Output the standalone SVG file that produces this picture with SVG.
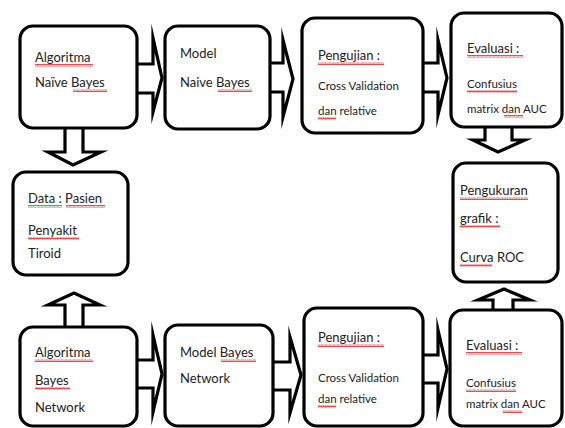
<svg xmlns="http://www.w3.org/2000/svg" width="565" height="428" viewBox="0 0 565 428">
<defs>
<pattern id="sq" width="4" height="3" patternUnits="userSpaceOnUse">
<path d="M0,2.5 L1,0.5 L2,2.5 L3,0.5 L4,2.5" fill="none" stroke="#e02020" stroke-width="0.8"/>
</pattern>
<pattern id="sqg" width="4" height="3" patternUnits="userSpaceOnUse">
<path d="M0,2.5 L1,0.5 L2,2.5 L3,0.5 L4,2.5" fill="none" stroke="#2a9a2a" stroke-width="0.8"/>
</pattern>
</defs>
<style>
.box{fill:#fff;stroke:#000;stroke-width:3.2}
.arr{fill:#fff;stroke:#000;stroke-width:3.2;stroke-linejoin:miter;stroke-miterlimit:10}
text{font-family:Lato,"Liberation Sans",sans-serif;fill:#222}
.t{font-size:13px}
.s{font-size:11.5px}
.r{fill:url(#sq)}
.g{fill:url(#sqg)}
</style>
<rect width="565" height="428" fill="#fff"/>
<g id="connectors">
<path class="arr" d="M137,64 L153,64 L153,38 L162,78 L153,112 L153,93 L137,93"/>
<path class="arr" d="M269,63 L283,63 L283,40 L293,79 L283,117 L283,92 L269,92"/>
<path class="arr" d="M423,63 L438,63 L438,40 L447,78 L438,115 L438,92 L423,92"/>
<path class="arr" d="M137,360 L153,360 L153,335 L162,374 L153,412 L153,388 L137,388"/>
<path class="arr" d="M273,362 L290,362 L290,337 L301,375 L290,413 L290,390 L273,390"/>
<path class="arr" d="M423,355 L438,355 L438,330 L447,369 L438,408 L438,383 L423,383"/>
<path class="arr" d="M65,128 L65,152 L48,152 L73,165 L101,152 L83,152 L83,128"/>
<path class="arr" d="M65,327 L65,305 L48,305 L74,293 L100,305 L83,305 L83,327"/>
<path class="arr" d="M485,127 L485,140 L473,140 L498,152 L525,140 L512,140 L512,127"/>
<path class="arr" d="M493,310 L493,300 L478,300 L504,289 L530,300 L513,300 L513,310"/>
</g>
<g id="n1">
<rect class="box" x="20" y="26" width="117" height="102" rx="13"/>
<text class="t" x="35" y="62">Algoritma</text>
<text class="t" x="35" y="87">Naïve Bayes</text>
<rect class="r" x="35" y="64" width="58" height="3"/>
<rect class="r" x="73" y="89" width="34" height="3"/>
</g>
<g id="n2">
<rect class="box" x="165" y="26" width="105" height="103" rx="13"/>
<text class="t" x="180" y="58">Model</text>
<text class="t" x="180" y="87">Naive Bayes</text>
<rect class="r" x="218" y="89" width="34" height="3"/>
</g>
<g id="n3">
<rect class="box" x="302" y="18" width="121" height="115" rx="13"/>
<text class="t" x="318" y="60">Pengujian :</text>
<text class="s" x="318" y="90">Cross Validation</text>
<text class="s" x="318" y="115">dan relative</text>
<rect class="r" x="318" y="62" width="66" height="3"/>
<rect class="r" x="318" y="117" width="18" height="3"/>
</g>
<g id="n4">
<rect class="box" x="451" y="13" width="111" height="114" rx="13"/>
<text class="t" x="467" y="53">Evaluasi :</text>
<text class="s" x="467" y="88">Confusius</text>
<text class="s" x="467" y="113">matrix dan AUC</text>
<rect class="r" x="467" y="55" width="56" height="3"/>
<rect class="r" x="467" y="90" width="50" height="3"/>
<rect class="r" x="504" y="115" width="19" height="3"/>
</g>
<g id="n5">
<rect class="box" x="453" y="163" width="105" height="119" rx="13"/>
<text class="t" x="460" y="195">Pengukuran</text>
<text class="t" x="460" y="223">grafik :</text>
<text class="t" x="460" y="262">Curva ROC</text>
<rect class="r" x="460" y="197" width="68" height="3"/>
<rect class="r" x="460" y="225" width="40" height="3"/>
<rect class="r" x="460" y="264" width="32" height="3"/>
</g>
<g id="n6">
<rect class="box" x="13" y="172" width="115" height="103" rx="13"/>
<text class="t" x="28" y="203">Data : Pasien</text>
<text class="t" x="28" y="235">Penyakit</text>
<text class="t" x="28" y="258">Tiroid</text>
<rect class="g" x="28" y="205" width="34" height="3"/>
<rect class="r" x="66" y="205" width="39" height="3"/>
<rect class="r" x="28" y="237" width="51" height="3"/>
</g>
<g id="n7">
<rect class="box" x="20" y="327" width="117" height="99" rx="13"/>
<text class="t" x="35" y="357">Algoritma</text>
<text class="t" x="35" y="385">Bayes</text>
<text class="t" x="35" y="412">Network</text>
<rect class="r" x="35" y="359" width="58" height="3"/>
<rect class="r" x="35" y="387" width="35" height="3"/>
</g>
<g id="n8">
<rect class="box" x="165" y="325" width="108" height="101" rx="13"/>
<text class="t" x="180" y="357">Model Bayes</text>
<text class="t" x="180" y="383">Network</text>
<rect class="r" x="221" y="359" width="35" height="3"/>
</g>
<g id="n9">
<rect class="box" x="304" y="308" width="119" height="118" rx="13"/>
<text class="t" x="318" y="342">Pengujian :</text>
<text class="s" x="318" y="382">Cross Validation</text>
<text class="s" x="318" y="403">dan relative</text>
<rect class="r" x="318" y="344" width="66" height="3"/>
<rect class="r" x="318" y="405" width="18" height="3"/>
</g>
<g id="n10">
<rect class="box" x="450" y="310" width="112" height="116" rx="13"/>
<text class="t" x="466" y="350">Evaluasi :</text>
<text class="s" x="466" y="387">Confusius</text>
<text class="s" x="466" y="408">matrix dan AUC</text>
<rect class="r" x="466" y="352" width="56" height="3"/>
<rect class="r" x="466" y="389" width="50" height="3"/>
<rect class="r" x="503" y="410" width="19" height="3"/>
</g>
</svg>
